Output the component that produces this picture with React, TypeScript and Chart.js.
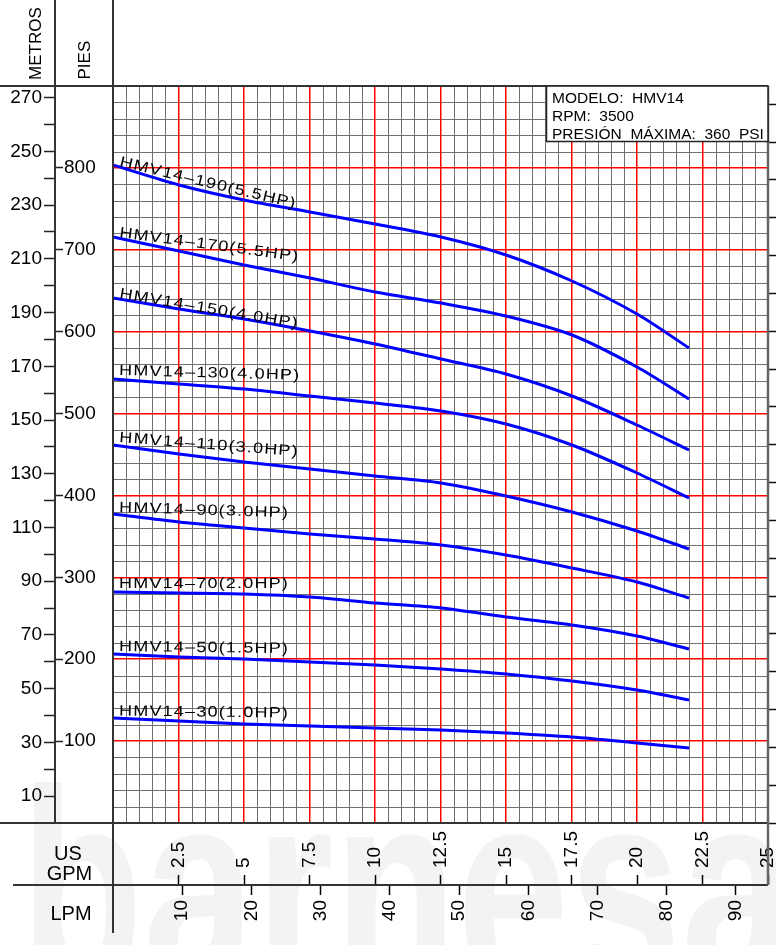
import { useEffect, useRef } from 'react';
import { Chart, registerables } from 'chart.js';

Chart.register(...registerables);

const FONT = '"Liberation Sans", Arial, sans-serif';

// ---- data (US GPM vs head in feet) ----
const flowGpm = [0, 2.5, 5, 7.5, 10, 12.5, 15, 17.5, 20, 22];

const head190 = [804, 779, 761, 746, 732, 716, 694, 662, 621, 580];
const head170 = [715, 698, 681, 665, 649, 635, 619, 596, 557, 518];
const head150 = [641, 628, 615, 601, 585, 567, 548, 521, 486, 456];
const head130 = [542, 536, 530, 522, 513, 503, 487, 462, 427, 397];
const head110 = [462, 451, 441, 432, 424, 415, 399, 380, 356, 334];
const head90 = [377, 368, 360, 353, 347, 339, 327, 312, 294, 275];
const head70 = [282, 281, 280, 276, 269, 262, 252, 242, 228, 213];
const head50 = [206, 203, 200, 196.5, 192.5, 188, 182, 174, 162, 150];
const head30 = [128, 124.5, 121, 118, 115.5, 113, 110, 105, 98, 92];

const modelNames = [
  'HMV14–190(5.5HP)',
  'HMV14–170(5.5HP)',
  'HMV14–150(4.0HP)',
  'HMV14–130(4.0HP)',
  'HMV14–110(3.0HP)',
  'HMV14–90(3.0HP)',
  'HMV14–70(2.0HP)',
  'HMV14–50(1.5HP)',
  'HMV14–30(1.0HP)',
];
const modelHeads = [head190, head170, head150, head130, head110, head90, head70, head50, head30];

// label styling (rotation in degrees, lift in px above curve start)
const labelAngles = [13.5, 7.7, 9.6, 1.5, 4.5, 1.8, 0, 0.7, 0.7];
const labelLift = [-1, 0, 0, 4, 3, 2, 4, 3, 2.5];

const infoLines = ['MODELO:  HMV14', 'RPM:  3500', 'PRESIÓN  MÁXIMA:  360  PSI'];

// axis ranges / units
const FLOW_MAX = 25;
const FLOW_MINOR = 0.5;
const FLOW_MAJOR = 2.5;
const FT_MAX = 900;
const FT_MINOR = 20;
const FT_MAJOR = 100;
const FT_PER_M = 3.28084;
const FT_PER_PSI = 2.31;
const L_PER_GAL = 3.78541;

const RED = '#ff0000';
const GRAY = '#707070';
const BLUE = '#0000ff';
const CLEAR = 'rgba(0,0,0,0)';

const isMult = (v: number, m: number) => Math.abs(v / m - Math.round(v / m)) < 1e-6;
const fmt = (v: number) => (Number.isInteger(v) ? String(v) : v.toFixed(1));

const TICK_SIZE = 19;
const tickFont = { family: FONT, size: TICK_SIZE, lineHeight: 1.2 };

const decorPlugin = {
  id: 'decor',
  afterLayout(chart: any) {
    const s = chart.scales;
    const ca = chart.chartArea;
    const gpm = s.gpm;
    gpm.top = s.x.top;
    gpm.bottom = s.x.bottom;
    gpm.height = s.x.bottom - s.x.top;
    gpm.left = ca.left;
    gpm.right = ca.right;
    gpm.width = ca.right - ca.left;
    gpm.configure();
    const pies = s.pies;
    pies.left = s.y.left;
    pies.right = s.y.right;
    pies.width = s.y.right - s.y.left;
    pies.top = ca.top;
    pies.bottom = ca.bottom;
    pies.height = ca.bottom - ca.top;
    pies.configure();
  },
  beforeDraw(chart: any) {
    const ctx = chart.ctx;
    const ca = chart.chartArea;
    ctx.save();
    ctx.fillStyle = '#f3f3f3';
    ctx.translate(20, 985);
    ctx.scale(0.72, 1);
    ctx.font = `bold 280px ${FONT}`;
    ctx.fillText('barnesa', 0, 0);
    ctx.restore();
    ctx.save();
    ctx.fillStyle = '#ffffff';
    ctx.fillRect(ca.left, ca.top, ca.right - ca.left, ca.bottom - ca.top);
    ctx.restore();
  },
  afterDatasetsDraw(chart: any) {
    const ctx = chart.ctx;
    const xs = chart.scales.x;
    const ys = chart.scales.y;
    ctx.save();
    ctx.font = `15px ${FONT}`;
    ctx.fillStyle = '#000';
    ctx.textAlign = 'left';
    ctx.textBaseline = 'alphabetic';
    (ctx as any).letterSpacing = '1px';
    modelNames.forEach((name, i) => {
      const x0 = xs.getPixelForValue(flowGpm[0]) + 6;
      const y0 = ys.getPixelForValue(modelHeads[i][0]) - labelLift[i];
      ctx.save();
      ctx.translate(x0, y0);
      ctx.rotate((labelAngles[i] * Math.PI) / 180);
      ctx.scale(1.2, 1);
      ctx.fillText(name, 0, 0);
      ctx.restore();
    });
    (ctx as any).letterSpacing = '0px';
    ctx.restore();
  },
  afterDraw(chart: any) {
    const ctx = chart.ctx;
    const ca = chart.chartArea;
    const s = chart.scales;
    const colX = s.metros.right;
    const rowY = s.x.bottom;
    ctx.save();
    ctx.strokeStyle = '#333';
    ctx.lineWidth = 2;
    ctx.beginPath();
    ctx.moveTo(ca.left, 0);
    ctx.lineTo(ca.left, 933);
    ctx.moveTo(colX, 0);
    ctx.lineTo(colX, ca.bottom);
    ctx.moveTo(0, ca.top);
    ctx.lineTo(ca.right, ca.top);
    ctx.moveTo(0, ca.bottom);
    ctx.lineTo(ca.right, ca.bottom);
    ctx.moveTo(13, rowY);
    ctx.lineTo(ca.right, rowY);
    ctx.stroke();
    ctx.strokeStyle = '#666';
    ctx.lineWidth = 2.5;
    ctx.beginPath();
    ctx.moveTo(ca.right, ca.top);
    ctx.lineTo(ca.right, rowY);
    ctx.stroke();

    ctx.fillStyle = '#000';
    ctx.font = `17px ${FONT}`;
    ctx.textAlign = 'left';
    ctx.textBaseline = 'alphabetic';
    ctx.save();
    ctx.translate(40.5, 80);
    ctx.rotate(-Math.PI / 2);
    ctx.fillText('METROS', 0, 0);
    ctx.restore();
    ctx.save();
    ctx.translate(90, 79.5);
    ctx.rotate(-Math.PI / 2);
    ctx.fillText('PIES', 0, 0);
    ctx.restore();

    ctx.font = `20px ${FONT}`;
    ctx.textAlign = 'center';
    ctx.fillText('US', 68, 860);
    ctx.fillText('GPM', 69.5, 880);
    ctx.fillText('LPM', 71, 920);

    const bx = 546.5, by = ca.top, bw = ca.right - 546.5, bh = 55.5;
    ctx.fillStyle = '#fff';
    ctx.fillRect(bx, by, bw, bh);
    ctx.strokeStyle = '#222';
    ctx.lineWidth = 1.5;
    ctx.strokeRect(bx, by, bw, bh);
    ctx.fillStyle = '#000';
    ctx.font = `15.5px ${FONT}`;
    ctx.textAlign = 'left';
    infoLines.forEach((t, i) => ctx.fillText(t, 552, 102.5 + i * 18));
    ctx.restore();
  },
};

export default function App() {
  const ref = useRef<HTMLCanvasElement>(null);
  useEffect(() => {
    const canvas = ref.current;
    if (!canvas) return;
    const chart = new Chart(canvas, {
      type: 'line',
      data: {
        datasets: modelNames.map((name, i) => ({
          label: name,
          data: flowGpm.map((x, j) => ({ x, y: modelHeads[i][j] })),
          borderColor: BLUE,
          borderWidth: 3,
          pointRadius: 0,
          fill: false,
          tension: 0.3,
          xAxisID: 'x',
          yAxisID: 'y',
        })),
      },
      options: {
        responsive: false,
        animation: false,
        events: [],
        layout: { padding: { top: 86, left: 0, right: 0, bottom: 0 } },
        plugins: { legend: { display: false }, tooltip: { enabled: false }, title: { display: false } },
        scales: {
          x: {
            type: 'linear', position: 'bottom', weight: 0, min: 0, max: FLOW_MAX, alignToPixels: true,
            ticks: { display: false, stepSize: FLOW_MINOR, maxTicksLimit: 1000 },
            grid: { color: (c: any) => (c.tick && isMult(c.tick.value, FLOW_MAJOR) ? CLEAR : GRAY), lineWidth: 1, drawTicks: false },
            border: { display: false },
            afterFit: (sc: any) => { sc.height = 62; sc.paddingLeft = 0; sc.paddingRight = 0; },
          },
          y: {
            type: 'linear', position: 'left', weight: 0, min: 0, max: FT_MAX, alignToPixels: true,
            ticks: { display: false, stepSize: FT_MINOR, maxTicksLimit: 1000 },
            grid: { color: (c: any) => (c.tick && isMult(c.tick.value, FT_MAJOR) ? CLEAR : GRAY), lineWidth: 1, drawTicks: false },
            border: { display: false },
            afterFit: (sc: any) => { sc.width = 58; },
          },
          xMajor: {
            type: 'linear', position: 'bottom', weight: -1, min: 0, max: FLOW_MAX,
            ticks: { display: false, stepSize: FLOW_MAJOR },
            grid: { color: RED, lineWidth: 1.5, drawTicks: false },
            border: { display: false },
            afterFit: (sc: any) => { sc.height = 0; sc.paddingLeft = 0; sc.paddingRight = 0; },
          },
          yMajor: {
            type: 'linear', position: 'left', weight: -1, min: 0, max: FT_MAX,
            ticks: { display: false, stepSize: FT_MAJOR },
            grid: { color: RED, lineWidth: 1.5, drawTicks: false },
            border: { display: false },
            afterFit: (sc: any) => { sc.width = 0; },
          },
          gpm: {
            type: 'linear', position: 'top', min: 0, max: FLOW_MAX,
            ticks: {
              stepSize: FLOW_MAJOR, autoSkip: false, minRotation: 90, maxRotation: 90, padding: 7,
              labelOffset: TICK_SIZE * 1.2,
              color: '#000', font: tickFont,
              callback: (v: any) => (Number(v) === 0 ? '' : fmt(Number(v))),
            },
            grid: { drawOnChartArea: false, tickLength: 10, tickWidth: 1.5, color: '#000',
              tickColor: (c: any) => (c.tick && c.tick.value === 0 ? CLEAR : '#000') },
            border: { display: false },
            afterFit: (sc: any) => { sc.height = 0; sc.paddingLeft = 0; sc.paddingRight = 0; },
          },
          lpm: {
            type: 'linear', position: 'bottom', weight: 1, min: 0, max: FLOW_MAX * L_PER_GAL,
            ticks: {
              stepSize: 10, includeBounds: false, autoSkip: false, minRotation: 90, maxRotation: 90, padding: 5,
              color: '#000', font: tickFont,
              callback: (v: any) => (Number(v) === 0 ? '' : fmt(Number(v))),
            },
            grid: { drawOnChartArea: false, tickLength: 10, tickWidth: 1.5, color: '#000',
              tickColor: (c: any) => (c.tick && c.tick.value === 0 ? CLEAR : '#000') },
            border: { display: false },
            afterFit: (sc: any) => { sc.height = 60; sc.paddingLeft = 0; sc.paddingRight = 0; },
          },
          metros: {
            type: 'linear', position: 'left', weight: 1, min: 0, max: FT_MAX / FT_PER_M,
            ticks: {
              stepSize: 10, includeBounds: false, padding: 2, color: '#000', font: tickFont,
              callback: (v: any) => (isMult(Number(v) - 10, 20) ? String(v) : ''),
            },
            grid: { drawOnChartArea: false, tickLength: 11, tickWidth: 1.5, color: '#222',
              tickColor: (c: any) => (c.tick && c.tick.value === 0 ? CLEAR : '#222') },
            border: { display: false },
            afterFit: (sc: any) => { sc.width = 55; },
          },
          pies: {
            type: 'linear', position: 'right', weight: 1, min: 0, max: FT_MAX,
            ticks: {
              stepSize: 100, includeBounds: false, padding: 1, color: '#000', font: tickFont,
              callback: (v: any) => (Number(v) === 0 || Number(v) === FT_MAX ? '' : String(v)),
            },
            grid: { drawOnChartArea: false, tickLength: 8, tickWidth: 1.5, color: '#222',
              tickColor: (c: any) => (c.tick && (c.tick.value === 0 || c.tick.value === FT_MAX) ? CLEAR : '#222') },
            border: { display: false },
            afterFit: (sc: any) => { sc.width = 0; },
          },
          psi: {
            type: 'linear', position: 'right', weight: 0, min: 0, max: FT_MAX / FT_PER_PSI,
            ticks: { display: false, stepSize: 20, includeBounds: false },
            grid: { drawOnChartArea: false, tickLength: 8, tickWidth: 1.5, color: '#111' },
            border: { display: false },
            afterFit: (sc: any) => { sc.width = 8; },
          },
        },
      } as any,
      plugins: [decorPlugin as any],
    });
    return () => chart.destroy();
  }, []);
  return (
    <div style={{ position: 'absolute', left: 0, top: 0, width: 776, height: 945, background: '#fff' }}>
      <canvas ref={ref} width={776} height={945} style={{ display: 'block', width: 776, height: 945 }} />
    </div>
  );
}
